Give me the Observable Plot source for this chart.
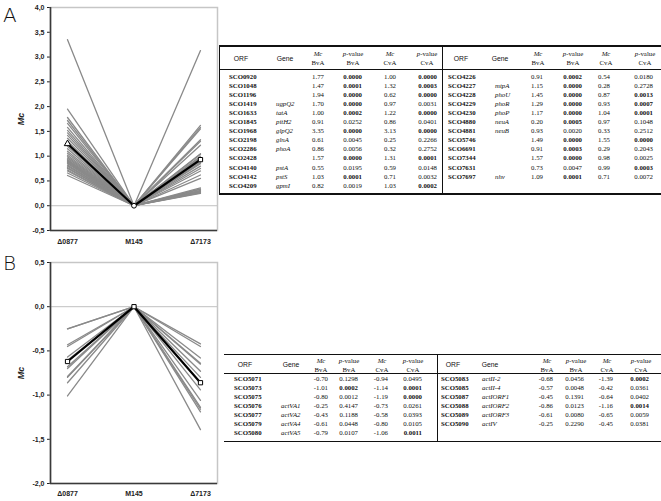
<!DOCTYPE html>
<html><head><meta charset="utf-8">
<script src="https://cdn.jsdelivr.net/npm/d3@7"></script>
<script src="https://cdn.jsdelivr.net/npm/@observablehq/plot@0.6"></script>
<style>
body{margin:0;background:#fff;}
#root{position:relative;width:661px;height:501px;overflow:hidden;background:#fff;}
.panel{position:absolute;left:3px;font-family:"DejaVu Sans",sans-serif;font-weight:200;font-size:20px;line-height:20px;color:#111;}
.chart{position:absolute;left:0;}
.chart g[aria-label="y-axis label"] text{font-style:italic;font-size:9px;font-weight:bold;}
.cell{position:absolute;white-space:nowrap;font-family:"Liberation Serif",serif;font-size:6.8px;line-height:7px;color:#111;transform:translateY(-50%);}
.cell.c{transform:translate(-50%,-50%);}
.cell.r{transform:translate(-100%,-50%);}
.sans{font-family:"Liberation Sans",Arial,sans-serif;}
.b{font-weight:bold;}
.i{font-style:italic;}
.rule{position:absolute;background:#111;}
</style></head>
<body><div id="root">
<div class="panel" style="top:5px">A</div>
<div class="panel" style="top:253px">B</div>
<div id="chartA" class="chart" style="top:0px"></div>
<div id="chartB" class="chart" style="top:250px"></div>
</div>
<script>
// ---------- data ----------
const strains = ["Δ0877", "M145", "Δ7173"];
const baseline = 0; // M145 reference

// Chart A (gray lines): Mc in Δ0877 and Δ7173 relative to M145
const chartA_0877 = [3.35, 1.95, 1.78, 1.72, 1.66, 1.58, 1.52, 1.47, 1.42, 1.36, 1.30, 1.20, 1.15, 1.10, 1.06, 1.02, 0.99, 0.96, 0.93, 0.91, 0.89, 0.87, 0.85, 0.82, 0.80, 0.77, 0.75, 0.72, 0.70, 0.66, 0.61];
const chartA_7173 = [3.13, 0.62, 1.00, 0.97, 1.33, 1.55, 1.30, 0.87, 0.98, 0.93, 1.62, 1.04, 0.28, 0.33, 1.58, 1.22, 0.90, 0.29, 0.85, 0.80, 0.31, 0.75, 0.26, 0.70, 0.55, 0.34, 0.30, 0.25, 1.05, 0.27, 0.36];
const chartA_mean = [1.25, 0, 0.93];
const chartA_symbols = ["triangle", "circle", "square"];

// Table A
const orfA_left  = ["SCO0920","SCO1048","SCO1196","SCO1419","SCO1633","SCO1845","SCO1968","SCO2198","SCO2286","SCO2428","SCO4140","SCO4142","SCO4209"];
const geneA_left = ["","","","ugpQ2","tatA","pitH2","glpQ2","glnA","phoA","","pstA","pstS","gpmI"];
const mcBvA_A_left = [1.77,1.47,1.94,1.70,1.00,0.91,3.35,0.61,0.86,1.57,0.55,1.03,0.82];
const pBvA_A_left  = [0.0000,0.0001,0.0000,0.0000,0.0002,0.0252,0.0000,0.0045,0.0056,0.0000,0.0195,0.0001,0.0019];
const mcCvA_A_left = [1.00,1.32,0.62,0.97,1.22,0.86,3.13,0.25,0.32,1.31,0.59,0.71,1.03];
const pCvA_A_left  = [0.0000,0.0003,0.0000,0.0031,0.0000,0.0401,0.0000,0.2266,0.2752,0.0001,0.0148,0.0032,0.0002];

const orfA_right  = ["SCO4226","SCO4227","SCO4228","SCO4229","SCO4230","SCO4880","SCO4881","SCO5746","SCO6691","SCO7344","SCO7631","SCO7697"];
const geneA_right = ["","mtpA","phoU","phoR","phoP","neuA","neuB","","","","","nhv"];
const mcBvA_A_right = [0.91,1.15,1.45,1.29,1.17,0.20,0.93,1.49,0.91,1.57,0.73,1.09];
const pBvA_A_right  = [0.0002,0.0000,0.0000,0.0000,0.0000,0.0005,0.0020,0.0000,0.0003,0.0000,0.0047,0.0001];
const mcCvA_A_right = [0.54,0.28,0.87,0.93,1.04,0.97,0.33,1.55,0.29,0.98,0.99,0.71];
const pCvA_A_right  = [0.0180,0.2728,0.0013,0.0007,0.0001,0.1048,0.2512,0.0000,0.2043,0.0025,0.0003,0.0072];

// Table B (also the gray lines of chart B)
const orfB_left  = ["SCO5071","SCO5073","SCO5075","SCO5076","SCO5077","SCO5079","SCO5080"];
const geneB_left = ["","","","actVA1","actVA2","actVA4","actVA5"];
const mcBvA_B_left = [-0.70,-1.01,-0.80,-0.25,-0.43,-0.61,-0.79];
const pBvA_B_left  = [0.1298,0.0002,0.0012,0.4147,0.1188,0.0448,0.0107];
const mcCvA_B_left = [-0.94,-1.14,-1.19,-0.73,-0.58,-0.80,-1.06];
const pCvA_B_left  = [0.0495,0.0001,0.0000,0.0261,0.0393,0.0105,0.0011];

const orfB_right  = ["SCO5083","SCO5085","SCO5087","SCO5088","SCO5089","SCO5090"];
const geneB_right = ["actII-2","actII-4","actIORF1","actIORF2","actIORF3","actIV"];
const mcBvA_B_right = [-0.68,-0.57,-0.45,-0.86,-0.61,-0.25];
const pBvA_B_right  = [0.0456,0.0048,0.1391,0.0123,0.0080,0.2290];
const mcCvA_B_right = [-1.39,-0.42,-0.64,-1.16,-0.65,-0.45];
const pCvA_B_right  = [0.0002,0.0361,0.0402,0.0014,0.0059,0.0381];

const chartB_mean = [-0.62, 0, -0.86];
const chartB_symbols = ["square", "square", "square"];

const boldCutBvA = 0.001, boldCutCvA = 0.002;

// ---------- charts ----------
const fmt = d => d.toFixed(1).replace(".", ",");
const xPad = 0.256;

function lineData(a, c) {
  return a.flatMap((v, i) => [
    {id: i, strain: strains[0], value: v},
    {id: i, strain: strains[1], value: baseline},
    {id: i, strain: strains[2], value: c[i]}
  ]);
}
function meanData(m, s) { return strains.map((st, i) => ({strain: st, value: m[i], sym: s[i]})); }

function chart({data, mean, yDomain, yTicks, height, marginTop, marginBottom, tickPad}) {
  const xi = d => strains.indexOf(d.strain);
  return Plot.plot({
    width: 220, height, marginLeft: 50, marginRight: 3, marginTop, marginBottom,
    style: {fontFamily: "'Liberation Sans', Arial, sans-serif", fontSize: "7px", fontWeight: "bold", background: "transparent", color: "#222"},
    x: {type: "linear", domain: [-xPad, 2 + xPad], ticks: [0, 1, 2], tickFormat: i => strains[i], tickSize: 0, tickPadding: tickPad, label: null},
    y: {domain: yDomain, ticks: yTicks, tickFormat: fmt, tickSize: 3, tickPadding: 3, label: "Mc", labelAnchor: "center", labelOffset: 33, labelArrow: "none"},
    marks: [
      Plot.frame({stroke: "#c6c6c6", strokeWidth: 1.5}),
      Plot.ruleY([0], {stroke: "#c0c0c0", strokeWidth: 1}),
      Plot.line(data, {x: xi, y: "value", z: "id", stroke: "#8a8a8a", strokeWidth: 1.3}),
      Plot.line(mean, {x: xi, y: "value", stroke: "#000", strokeWidth: 2.2}),
      Plot.dot(mean, {x: xi, y: "value", symbol: "sym", r: 2.4, fill: "white", stroke: "#000", strokeWidth: 1}),
      Plot.ruleY([yDomain[0]], {stroke: "#3a3a3a", strokeWidth: 1.6}),
      Plot.ruleX([-xPad], {stroke: "#3a3a3a", strokeWidth: 1.6})
    ]
  });
}

document.getElementById("chartA").append(chart({
  data: lineData(chartA_0877, chartA_7173), mean: meanData(chartA_mean, chartA_symbols),
  yDomain: [-0.5, 4], yTicks: d3.range(-0.5, 4.01, 0.5), height: 250, marginTop: 7, marginBottom: 20, tickPad: 9
}));
document.getElementById("chartB").append(chart({
  data: lineData(mcBvA_B_left.concat(mcBvA_B_right), mcCvA_B_left.concat(mcCvA_B_right)), mean: meanData(chartB_mean, chartB_symbols),
  yDomain: [-2, 0.5], yTicks: d3.range(-2, 0.51, 0.5), height: 251, marginTop: 12, marginBottom: 18, tickPad: 8
}));

// ---------- tables ----------
const root = document.getElementById("root");
function cell(html, x, y, align, cls) {
  const d = document.createElement("div");
  d.className = "cell " + (align || "") + " " + (cls || "");
  d.innerHTML = html;
  d.style.left = x + "px"; d.style.top = y + "px";
  root.append(d);
}
function rule(x, y, w, h) {
  const d = document.createElement("div");
  d.className = "rule";
  Object.assign(d.style, {left: x + "px", top: y + "px", width: w + "px", height: h + "px"});
  root.append(d);
}
function half(cols, hdr, rowY0, step, orf, gene, mb, pb, mc, pc) {
  // header
  cell("ORF", cols.orfH, hdr.mid, "c", "sans");
  cell("Gene", cols.geneH, hdr.mid, "c", "sans");
  cell('<span class="i">Mc</span>', cols.mbH, hdr.l1, "c");
  cell('<span class="i">p</span>-value', cols.pbH, hdr.l1, "c");
  cell('<span class="i">Mc</span>', cols.mcH, hdr.l1, "c");
  cell('<span class="i">p</span>-value', cols.pcH, hdr.l1, "c");
  cell("BvA", cols.mbH, hdr.l2, "c");
  cell("BvA", cols.pbH, hdr.l2, "c");
  cell("CvA", cols.mcH, hdr.l2, "c");
  cell("CvA", cols.pcH, hdr.l2, "c");
  orf.forEach((o, i) => {
    const y = rowY0 + i * step;
    cell(o, cols.orf, y, "", "b");
    if (gene[i]) cell(gene[i], cols.gene, y, "", "i");
    cell(mb[i].toFixed(2), cols.mb, y, "r");
    cell(pb[i].toFixed(4), cols.pb, y, "r", pb[i] < boldCutBvA ? "b" : "");
    cell(mc[i].toFixed(2), cols.mc, y, "r");
    cell(pc[i].toFixed(4), cols.pc, y, "r", pc[i] < boldCutCvA ? "b" : "");
  });
}

// Table A
const hdrA = {l1: 53, l2: 62, mid: 57.5};
half({orfH: 241, geneH: 285, mbH: 318, pbH: 353, mcH: 390, pcH: 427,
      orf: 229, gene: 276, mb: 324, pb: 362, mc: 396, pc: 437},
     hdrA, 76, 9.05, orfA_left, geneA_left, mcBvA_A_left, pBvA_A_left, mcCvA_A_left, pCvA_A_left);
half({orfH: 461, geneH: 500, mbH: 538, pbH: 573, mcH: 606, pcH: 645,
      orf: 448, gene: 495, mb: 543, pb: 582, mc: 610, pc: 653},
     hdrA, 76, 9.05, orfA_right, geneA_right, mcBvA_A_right, pBvA_A_right, mcCvA_A_right, pCvA_A_right);
rule(219, 45, 442, 1.5);
rule(219, 69, 442, 0.8);
rule(219, 193, 442, 1.5);
rule(218.5, 45, 1.5, 149.5);
rule(442, 45, 1.2, 149.5);

// Table B
const hdrB = {l1: 360, l2: 368.5, mid: 364};
half({orfH: 245, geneH: 291, mbH: 321, pbH: 349, mcH: 382, pcH: 413,
      orf: 234, gene: 281, mb: 328, pb: 358, mc: 388, pc: 422},
     hdrB, 378, 9, orfB_left, geneB_left, mcBvA_B_left, pBvA_B_left, mcCvA_B_left, pCvA_B_left);
half({orfH: 453, geneH: 490, mbH: 547, pbH: 576, mcH: 607, pcH: 641,
      orf: 441, gene: 482, mb: 553, pb: 584, mc: 613, pc: 649},
     hdrB, 378, 9, orfB_right, geneB_right, mcBvA_B_right, pBvA_B_right, mcCvA_B_right, pCvA_B_right);
rule(224, 354, 437, 1.3);
rule(224, 373, 437, 0.7);
rule(224, 440.5, 437, 1.3);
rule(436.5, 354, 1, 87);
</script>
</body></html>
